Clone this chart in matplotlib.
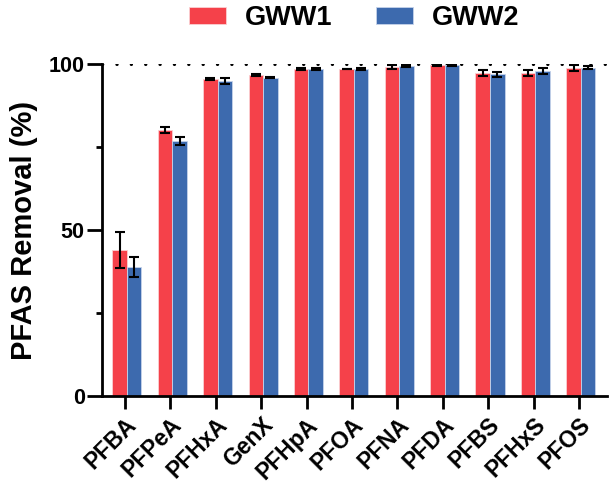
import numpy as np
import matplotlib.pyplot as plt

# -------------------------
# DATA
compounds = ["PFBA", "PFPeA", "PFHxA", "GenX", "PFHpA", "PFOA",
             "PFNA", "PFDA", "PFBS", "PFHxS", "PFOS"]
gww1 = [44.0, 80.2, 95.5, 96.8, 98.6, 98.5, 99.2, 99.7, 97.4, 97.4, 98.9]
gww1_err = [5.5, 0.8, 0.3, 0.3, 0.4, 0.0, 0.6, 0.3, 0.8, 0.9, 0.9]
gww2 = [39.0, 76.9, 94.9, 95.9, 98.5, 98.6, 99.6, 99.7, 97.0, 98.0, 99.0]
gww2_err = [3.0, 1.3, 0.8, 0.2, 0.3, 0.2, 0.3, 0.3, 0.8, 0.8, 0.5]
# -------------------------

plt.rcParams['font.family'] = ['Liberation Sans', 'DejaVu Sans']
plt.rcParams['font.weight'] = 'bold'

red = "#F5414A"
blue = "#3D6AAE"

fig = plt.figure(figsize=(6.16, 4.94), dpi=100)
ax = fig.add_axes([0.1656, 0.198, 0.820, 0.672])

x = np.arange(len(compounds))
w = 0.32
err_kw = dict(ecolor="k", elinewidth=1.5, capsize=3.5, capthick=1.5)
ax.bar(x - w/2 + 0.04, gww1, w, yerr=gww1_err, color=red, edgecolor="#fbd0d2",
       linewidth=0.6, label="GWW1", error_kw=err_kw)
ax.bar(x + w/2 + 0.04, gww2, w, yerr=gww2_err, color=blue, edgecolor="#c5d3ea",
       linewidth=0.6, label="GWW2", error_kw=err_kw)

# dotted reference line at 100 %
ax.axhline(100, color="k", lw=2.2, ls=(0, (0.1, 4.6)), dash_capstyle="round",
           zorder=0)

ax.set_xlim(-0.507, 10.62)
ax.set_ylim(0, 100)
ax.set_yticks([0, 50, 100])
ax.set_yticks([25, 75], minor=True)
ax.set_xticks(x)
ax.set_xticklabels(compounds, rotation=45, ha="right", rotation_mode="anchor",
                   fontsize=16.5, fontweight="bold")
ax.tick_params(axis="y", labelsize=15.5, width=2, length=10.5, pad=2)
ax.tick_params(axis="y", which="minor", width=2, length=4)
ax.tick_params(axis="x", width=2, length=9)
for lab in ax.get_yticklabels():
    lab.set_fontweight("bold")

ax.spines["top"].set_visible(False)
ax.spines["right"].set_visible(False)
ax.spines["left"].set_linewidth(2)
ax.spines["bottom"].set_linewidth(2)

ax.set_ylabel("PFAS Removal (%)", fontsize=21, fontweight="bold", labelpad=8)

fig.legend(loc="center left", bbox_to_anchor=(189/616, 1 - 18/494), ncol=2,
           frameon=False, prop=dict(size=19.5, weight="bold"), borderpad=0,
           borderaxespad=0, handlelength=1.37, handleheight=0.63,
           handletextpad=0.7, columnspacing=1.6)

fig.savefig("out.png", dpi=100)
